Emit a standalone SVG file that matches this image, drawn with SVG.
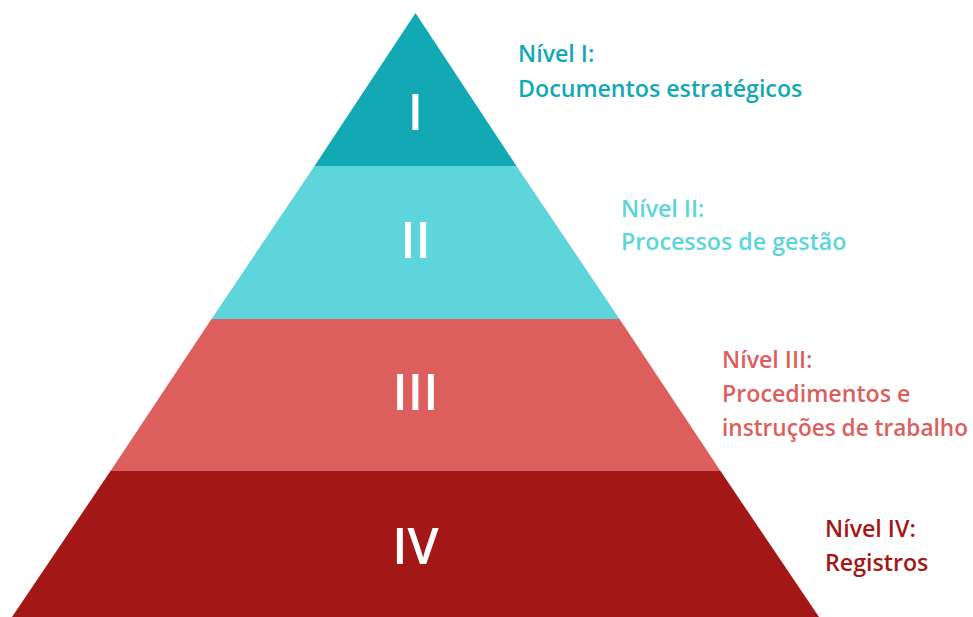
<svg xmlns="http://www.w3.org/2000/svg" width="973" height="617" viewBox="0 0 973 617">
<style>
.num{font-family:"Open Sans","Noto Sans",sans-serif;font-weight:600;font-size:50px;fill:#fff;text-anchor:middle}
.lbl{font-family:"Open Sans","Noto Sans",sans-serif;font-weight:600;font-size:23.2px}
.c1{fill:#12a9b4}.c2{fill:#5dd5db}.c3{fill:#dc5f5e}.c4{fill:#a31816}
</style>
<rect width="973" height="617" fill="#fff"/>
<g id="level1">
<polygon class="c1" points="415.5,13 516.5,166 314.5,166"/>
<text class="num" x="415.5" y="130">I</text>
<text class="lbl c1" x="518" y="62">Nível I:</text>
<text class="lbl c1" x="518" y="97">Documentos estratégicos</text>
</g>
<g id="level2">
<polygon class="c2" points="314.5,166 516.5,166 619.5,319 211.5,319"/>
<text class="num" x="415.5" y="258">II</text>
<text class="lbl c2" x="621" y="217">Nível II:</text>
<text class="lbl c2" x="621" y="250">Processos de gestão</text>
</g>
<g id="level3">
<polygon class="c3" points="211.5,319 619.5,319 720.5,471 110.5,471"/>
<text class="num" x="415.5" y="410">III</text>
<text class="lbl c3" x="722" y="368">Nível III:</text>
<text class="lbl c3" x="722" y="402">Procedimentos e</text>
<text class="lbl c3" x="722" y="436" textLength="246" lengthAdjust="spacingAndGlyphs">instruções de trabalho</text>
</g>
<g id="level4">
<polygon class="c4" points="110.5,471 720.5,471 819,617 12,617"/>
<text class="num" x="415.5" y="564">IV</text>
<text class="lbl c4" x="825" y="537">Nível IV:</text>
<text class="lbl c4" x="825" y="571">Registros</text>
</g>
</svg>
